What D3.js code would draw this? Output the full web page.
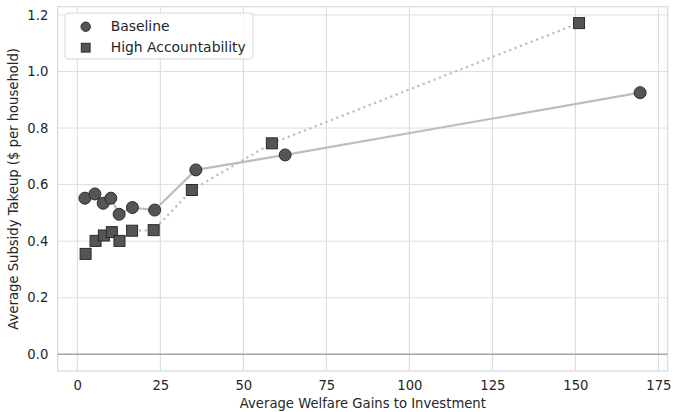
<!DOCTYPE html>
<html><head><meta charset="utf-8">
<script src="https://cdn.jsdelivr.net/npm/d3@7"></script>
<style>body{margin:0;background:#fff}svg text{font-family:"DejaVu Sans",sans-serif;fill:#262626}</style>
</head><body><svg id="c" width="674" height="412"></svg>
<script>
const baselineX = [2.3, 5.3, 7.8, 10.1, 12.6, 16.6, 23.3, 35.7, 62.6, 169.5];
const baselineY = [0.552, 0.567, 0.534, 0.552, 0.495, 0.519, 0.510, 0.652, 0.705, 0.925];
const highX = [2.5, 5.5, 8.0, 10.4, 12.7, 16.5, 23.0, 34.5, 58.6, 151.1];
const highY = [0.355, 0.401, 0.420, 0.432, 0.401, 0.437, 0.439, 0.581, 0.746, 1.171];
const xTicks = [0, 25, 50, 75, 100, 125, 150, 175];
const yTicks = [0.0, 0.2, 0.4, 0.6, 0.8, 1.0, 1.2];
const seriesNames = ["Baseline", "High Accountability"];

const svg = d3.select("#c");
const L = 57.7, R = 667.7, T = 6.7, B = 371;
const x = d3.scaleLinear().domain([-5.9, 177.8]).range([L, R]);
const y = d3.scaleLinear().domain([-0.059, 1.229]).range([B, T]);

// grid
const g = svg.append("g");
g.selectAll("line.vx").data(xTicks).join("line")
  .attr("x1", d => x(d)).attr("x2", d => x(d)).attr("y1", T).attr("y2", B)
  .attr("stroke", "#d9d9d9").attr("stroke-width", 1);
g.selectAll("line.hy").data(yTicks).join("line")
  .attr("y1", d => y(d)).attr("y2", d => y(d)).attr("x1", L).attr("x2", R)
  .attr("stroke", "#dedede").attr("stroke-width", 1);
// frame
svg.append("rect").attr("x", L).attr("y", T).attr("width", R - L).attr("height", B - T)
  .attr("fill", "none").attr("stroke", "#d9d9d9").attr("stroke-width", 1.2);
// zero line
svg.append("line").attr("x1", L).attr("x2", R).attr("y1", y(0)).attr("y2", y(0))
  .attr("stroke", "#a6a6a6").attr("stroke-width", 1.6);

// axes (labels only)
const xa = svg.append("g").attr("transform", `translate(0,${B})`)
  .call(d3.axisBottom(x).tickValues(xTicks).tickSize(0).tickPadding(9.5).tickFormat(d3.format("d")));
xa.select(".domain").remove();
xa.selectAll("text").attr("font-size", 13.2).attr("fill", "#262626").attr("font-family", "DejaVu Sans");
const ya = svg.append("g").attr("transform", `translate(${L},0)`)
  .call(d3.axisLeft(y).tickValues(yTicks).tickSize(0).tickPadding(9.4).tickFormat(d3.format(".1f")));
ya.select(".domain").remove();
ya.selectAll("text").attr("font-size", 13.2).attr("fill", "#262626").attr("font-family", "DejaVu Sans");

svg.append("text").attr("x", (240.7 + 485) / 2).attr("y", 408).attr("text-anchor", "middle")
  .attr("font-size", 13.2).text("Average Welfare Gains to Investment");
svg.append("text").attr("transform", `translate(17.5,${(T + B) / 2}) rotate(-90)`)
  .attr("text-anchor", "middle").attr("font-size", 13.2).text("Average Subsidy Takeup ($ per household)");

const line = d3.line().x(d => x(d[0])).y(d => y(d[1]));
const bData = baselineX.map((v, i) => [v, baselineY[i]]);
const hData = highX.map((v, i) => [v, highY[i]]);
svg.append("path").attr("d", line(bData)).attr("fill", "none")
  .attr("stroke", "#bdbdbd").attr("stroke-width", 2.2);
svg.append("path").attr("d", line(hData)).attr("fill", "none")
  .attr("stroke", "#bdbdbd").attr("stroke-width", 2.2).attr("stroke-dasharray", "2.2,3.6");

const fill = "#555555", edge = "#2b2b2b";
svg.selectAll("circle.b").data(bData).join("circle")
  .attr("cx", d => x(d[0])).attr("cy", d => y(d[1])).attr("r", 6)
  .attr("fill", fill).attr("stroke", edge).attr("stroke-width", 1);
const s = 11;
svg.selectAll("rect.h").data(hData).join("rect")
  .attr("x", d => x(d[0]) - s / 2).attr("y", d => y(d[1]) - s / 2).attr("width", s).attr("height", s)
  .attr("fill", fill).attr("stroke", edge).attr("stroke-width", 1);

// legend
const lg = svg.append("g");
lg.append("rect").attr("x", 65).attr("y", 13).attr("width", 188).attr("height", 46).attr("rx", 3)
  .attr("fill", "white").attr("fill-opacity", 0.85).attr("stroke", "#d6d6d6").attr("stroke-width", 1);
lg.append("circle").attr("cx", 85.7).attr("cy", 26.7).attr("r", 4.7).attr("fill", fill).attr("stroke", edge);
const ls = 8.8;
lg.append("rect").attr("x", 85.7 - ls / 2).attr("y", 47.7 - ls / 2).attr("width", ls).attr("height", ls).attr("fill", fill).attr("stroke", edge);
lg.append("text").attr("x", 110.7).attr("y", 31.2).attr("font-size", 13.9).text(seriesNames[0]);
lg.append("text").attr("x", 110.7).attr("y", 52.2).attr("font-size", 13.9).text(seriesNames[1]);
</script></body></html>
